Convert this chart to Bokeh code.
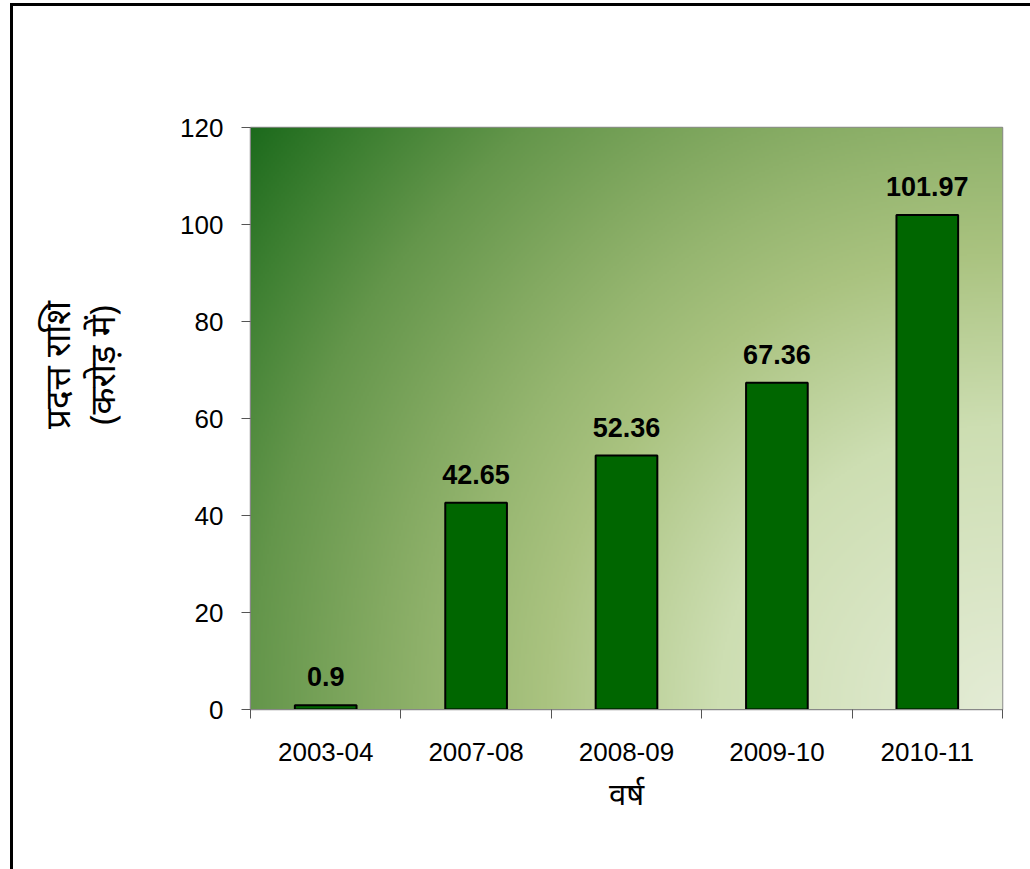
import numpy as np
from bokeh.plotting import figure
from bokeh.layouts import row
from bokeh.models import ColumnDataSource, FixedTicker, Range1d, LabelSet
from bokeh.embed import file_html
from bokeh.resources import INLINE
from bokeh.core.properties import value

# ---- data ----
years = ["2003-04", "2007-08", "2008-09", "2009-10", "2010-11"]
amounts = [0.9, 42.65, 52.36, 67.36, 101.97]
amount_labels = ["0.9", "42.65", "52.36", "67.36", "101.97"]
y_ticks = [0, 20, 40, 60, 80, 100, 120]
y_max = 120
x_title = "वर्ष"
y_title_lines = ["प्रदत्त राशि", "(करोड़ में)"]

n = len(years)
x_pos = [i + 0.5 for i in range(n)]
src = ColumnDataSource(dict(x=x_pos, top=amounts, label=amount_labels))

FONT = "Liberation Sans"
DEV_FONT = "Noto Sans"

# ---- narrow strip holding the rotated y title ----
TW, TH = 120, 863
tfig = figure(width=TW, height=TH, x_range=Range1d(0, TW), y_range=Range1d(0, TH),
              min_border=0, x_axis_location=None, y_axis_location=None,
              output_backend="svg", toolbar_location=None)
tfig.grid.visible = False
tfig.outline_line_color = None
tfig.background_fill_color = "white"
tfig.border_fill_color = "white"
tfig.text(x=[43, 88], y=[511, 511], text=y_title_lines, angle=np.pi / 2,
          text_align="center", text_baseline="middle",
          text_font=value(DEV_FONT), text_font_size="35px", text_color="black")

# ---- main chart ----
p = figure(frame_width=752, frame_height=582,
           min_border_left=117, min_border_top=121,
           min_border_right=28, min_border_bottom=160,
           x_range=Range1d(0, n), y_range=Range1d(0, y_max),
           output_backend="svg", toolbar_location=None)
p.background_fill_color = "white"
p.border_fill_color = "white"
p.outline_line_color = "#8c8c8c"
p.outline_line_width = 1.5
p.grid.visible = False

# gradient plot-area background: radial, lightest at the bottom-right corner
W, H = 752, 582
ny, nx = 291, 376
gx = (np.arange(nx) + 0.5) / nx * W
gy = (np.arange(ny) + 0.5) / ny * H          # measured from the top
GX, GY = np.meshgrid(gx, gy)
d = np.sqrt((W - GX) ** 2 + (H - GY) ** 2) / np.sqrt(W ** 2 + H ** 2)
stops_d = [0.0, 0.3, 0.48, 0.58, 0.66, 0.79, 0.9, 1.0]
stops_c = [(228, 236, 214), (205, 222, 178), (170, 195, 128), (150, 182, 112),
           (132, 170, 98), (100, 150, 75), (62, 128, 50), (28, 106, 28)]
img = np.empty((ny, nx), dtype=np.uint32)
view = img.view(dtype=np.uint8).reshape((ny, nx, 4))
for k in range(3):
    view[..., k] = np.interp(d, stops_d, [c[k] for c in stops_c]).astype(np.uint8)
view[..., 3] = 255
img = img[::-1]
p.image_rgba(image=[img], x=0, y=0, dw=n, dh=y_max)

# bars
p.vbar(x="x", top="top", bottom=0, width=0.41, source=src,
       fill_color="#006600", line_color="black", line_width=2)

labels = LabelSet(x="x", y="top", text="label", source=src,
                  text_align="center", text_baseline="alphabetic", y_offset=19,
                  text_font=value(FONT), text_font_size="27px",
                  text_font_style="bold", text_color="black")
p.add_layout(labels)

# x axis
xa = p.xaxis[0]
xa.ticker = FixedTicker(ticks=x_pos, minor_ticks=list(range(n + 1)))
xa.major_label_overrides = {x: lab for x, lab in zip(x_pos, years)}
xa.major_tick_out = 0
xa.major_tick_in = 0
xa.minor_tick_out = 9
xa.minor_tick_in = 0
xa.minor_tick_line_color = "#555555"
xa.axis_line_color = "#888888"
xa.major_label_text_font = FONT
xa.major_label_text_font_size = "26px"
xa.major_label_text_color = "black"
xa.major_label_standoff = 24
xa.axis_label = x_title
xa.axis_label_text_font = DEV_FONT
xa.axis_label_text_font_size = "31px"
xa.axis_label_text_font_style = "normal"
xa.axis_label_text_color = "black"
xa.axis_label_standoff = 8

# y axis
ya = p.yaxis[0]
ya.ticker = FixedTicker(ticks=y_ticks)
ya.major_tick_out = 9
ya.major_tick_in = 0
ya.minor_tick_out = 0
ya.minor_tick_in = 0
ya.major_tick_line_color = "#555555"
ya.axis_line_color = "#888888"
ya.major_label_text_font = FONT
ya.major_label_text_font_size = "26px"
ya.major_label_text_color = "black"
ya.major_label_standoff = 18

layout = row(tfig, p)
layout.styles = {"margin-left": "10px", "margin-top": "3px",
                 "border-left": "3px solid black", "border-top": "3px solid black"}

open("out.html", "w").write(file_html(layout, INLINE))
